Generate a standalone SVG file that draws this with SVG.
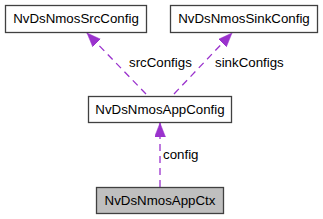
<svg xmlns="http://www.w3.org/2000/svg" width="323" height="219" viewBox="0 0 323 219">
<style>
.box{fill:#fff;stroke:#404040;stroke-width:1.3}
.cur{fill:#bfbfbf;stroke:#404040;stroke-width:1.3}
.t{font-family:"Liberation Sans",Arial,sans-serif;font-size:13.3px;fill:#000;text-anchor:middle}
.l{font-family:"Liberation Sans",Arial,sans-serif;font-size:13.3px;fill:#000}
.e{stroke:#9a32cd;stroke-width:1.3;stroke-dasharray:7,5;fill:none}
</style>
<defs>
<marker id="ah" markerWidth="15" markerHeight="12" refX="14" refY="5.5" orient="auto" markerUnits="userSpaceOnUse">
<path d="M0,0 L14,5.5 L0,11 Z" fill="#9a32cd" stroke="#9a32cd" stroke-width="0.5"/>
</marker>
</defs>
<g id="connectors">
<path class="e" d="M146,94 L87,33" marker-end="url(#ah)"/>
<path class="e" d="M174,94 L232,33" marker-end="url(#ah)"/>
<path class="e" d="M160,187 L160,123" marker-end="url(#ah)"/>
<text class="l" x="129" y="67">srcConfigs</text>
<text class="l" x="215" y="67">sinkConfigs</text>
<text class="l" x="163" y="159">config</text>
</g>
<g id="NvDsNmosSrcConfig">
<rect class="box" x="5.5" y="5.5" width="141" height="27"/>
<text class="t" x="76" y="23">NvDsNmosSrcConfig</text>
</g>
<g id="NvDsNmosSinkConfig">
<rect class="box" x="170.5" y="5.5" width="147" height="27"/>
<text class="t" x="244" y="23">NvDsNmosSinkConfig</text>
</g>
<g id="NvDsNmosAppConfig">
<rect class="box" x="88.5" y="96.5" width="143" height="26"/>
<text class="t" x="160" y="114">NvDsNmosAppConfig</text>
</g>
<g id="NvDsNmosAppCtx">
<rect class="cur" x="96.5" y="187.5" width="127" height="26"/>
<text class="t" x="160" y="205">NvDsNmosAppCtx</text>
</g>
</svg>
